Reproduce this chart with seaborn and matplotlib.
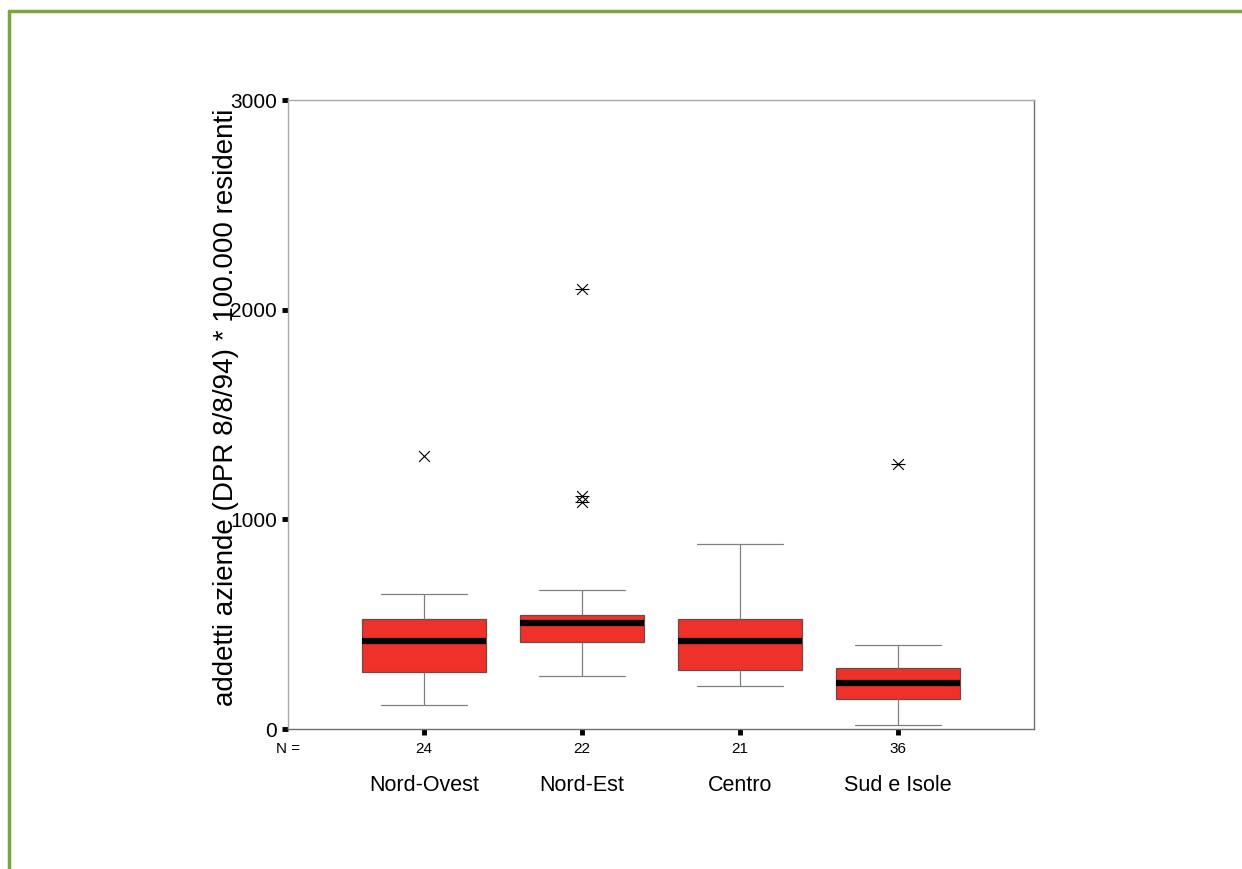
import numpy as np
import pandas as pd
import seaborn as sns
import matplotlib.pyplot as plt
from matplotlib.lines import Line2D

# five-number summaries
regions = ["Nord-Ovest", "Nord-Est", "Centro", "Sud e Isole"]
n_cases = [24, 22, 21, 36]
whisk_lo = [114, 253, 205, 19]
q1 = [272, 415, 281, 143]
median = [420, 505, 420, 219]
q3 = [525, 544, 525, 291]
whisk_hi = [644, 663, 882, 400]

# outliers (x = plain cross, * = asterisk)
out_region = [0, 1, 1, 1, 3]
out_value = [1302, 2098, 1111, 1082, 1264]
out_kind = ["x", "*", "*", "*", "*"]

# long form: 5 values per group give exactly these quartiles with whis=(0, 100)
rows = []
for i, r in enumerate(regions):
    for v in (whisk_lo[i], q1[i], median[i], q3[i], whisk_hi[i]):
        rows.append({"region": r, "value": v})
df = pd.DataFrame(rows)

sns.set_theme(style="white")
plt.rcParams["font.family"] = ["Liberation Sans", "DejaVu Sans"]
plt.rcParams["text.color"] = "black"
plt.rcParams["xtick.color"] = "black"
plt.rcParams["ytick.color"] = "black"

fig = plt.figure(figsize=(12.42, 8.69), dpi=100)
ax = fig.add_axes([0.2319, 0.1611, 0.6006, 0.7238])

sns.boxplot(data=df, x="region", y="value", order=regions, whis=(0, 100),
            width=0.78, color="#ee3229", saturation=1, linecolor="#6b4a48",
            linewidth=0.9, showfliers=False, ax=ax,
            medianprops={"color": "black", "linewidth": 4.5},
            whiskerprops={"color": "#808080", "linewidth": 0.9},
            capprops={"color": "#808080", "linewidth": 0.9})

# shrink the caps to SPSS proportions
for line in ax.lines:
    xd = np.asarray(line.get_xdata(), dtype=float)
    yd = np.asarray(line.get_ydata(), dtype=float)
    if len(xd) == 2 and yd[0] == yd[1] and xd[0] != xd[1]:
        if yd[0] in whisk_lo or yd[0] in whisk_hi:
            c = xd.mean()
            line.set_xdata([c - 0.27, c + 0.27])

ox = np.array(out_region, dtype=float)
oy = np.array(out_value, dtype=float)
star = np.array([k == "*" for k in out_kind])
sns.scatterplot(x=ox, y=oy, marker="x", color="black", s=60, linewidth=0.8, ax=ax)
sns.scatterplot(x=ox[star], y=oy[star], marker="_", color="black", s=110,
                linewidth=0.8, ax=ax)

ax.set_xlim(-0.86, 3.86)
ax.set_ylim(0, 3000)
ax.set_yticks([0, 1000, 2000, 3000])
ax.set_yticklabels(["0", "1000", "2000", "3000"], fontsize=15)
ax.set_xticks(range(len(regions)))
ax.set_xticklabels(regions, fontsize=15.5)
ax.set_xlabel("")
ax.set_ylabel("")
ax.tick_params(axis="both", direction="out", length=4, width=3.5,
               color="black", labelcolor="black", bottom=True, left=True)
ax.tick_params(axis="x", pad=29)
ax.tick_params(axis="y", pad=4)

for side, col in [("left", "#aaaaaa"), ("top", "#aaaaaa"),
                  ("bottom", "#707070"), ("right", "#707070")]:
    ax.spines[side].set_visible(True)
    ax.spines[side].set_color(col)
    ax.spines[side].set_linewidth(1.0)

# N = row
tr = ax.get_xaxis_transform()
ax.text(-0.86, -0.032, "N =", transform=tr, ha="center", va="center", fontsize=11)
for i, n in enumerate(n_cases):
    ax.text(i, -0.032, str(n), transform=tr, ha="center", va="center", fontsize=11)

ax.text(-0.083, 0.511, "addetti aziende (DPR 8/8/94) * 100.000 residenti",
        transform=ax.transAxes, rotation=90, ha="center", va="center",
        fontsize=20)

# green slide frame
green = "#7aa73a"
fig.add_artist(Line2D([9 / 1242, 1.0], [1 - 11 / 869, 1 - 11 / 869],
                      color=green, linewidth=2.5, transform=fig.transFigure))
fig.add_artist(Line2D([9 / 1242, 9 / 1242], [0.0, 1 - 11 / 869],
                      color=green, linewidth=2.5, transform=fig.transFigure))

fig.savefig("out.png", dpi=100)
